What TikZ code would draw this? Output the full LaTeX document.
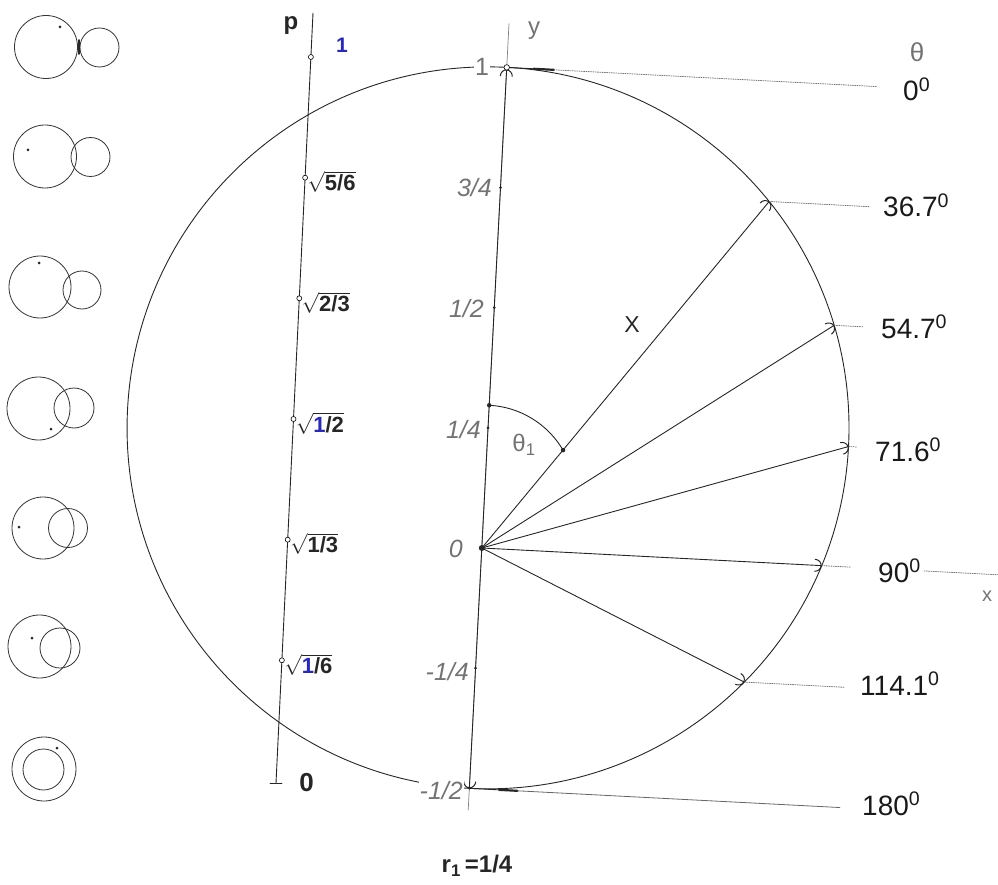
\documentclass[tikz,border=0pt]{standalone}
\usepackage{fontspec}
\setmainfont{Liberation Sans}
\usetikzlibrary{arrows.meta}
\definecolor{pblue}{RGB}{40,40,190}
\begin{document}
\begin{tikzpicture}[x=1pt,y=1pt,line cap=round,
  pair/.style={line width=0.8pt,black!80},
  bigc/.style={line width=0.9pt,black!85},
  axisl/.style={line width=0.7pt,black!50},
  ray/.style={line width=0.9pt,black!85,-{Arc Barb[width=13pt,length=7pt,line width=1pt]}},
  dotl/.style={black!55,line width=0.8pt,dash pattern=on 1pt off 1.3pt},
  anglbl/.style={anchor=base west,inner sep=0pt,font=\fontsize{28}{30}\selectfont,text=black!90},
  ylbl/.style={anchor=base east,inner sep=0pt,font=\fontsize{25}{28}\selectfont\itshape,text=black!55},
  plbl/.style={anchor=west,inner sep=0pt,font=\fontsize{22}{24}\selectfont\bfseries,text=black!85},
  mk/.style={circle,draw,inner sep=0pt,minimum size=5pt,fill=white,line width=0.6pt},
  tickdot/.style={circle,fill=black!85,inner sep=0pt,minimum size=3pt},
  glbl/.style={inner sep=0pt,text=black!55}]
\useasboundingbox (0,0) rectangle (998,-885);

% ---- left circle pairs
\foreach \bx/\by/\br/\sx/\sy/\sr/\dx/\dy in {
  46/47/31.5/99.5/47.5/19.5/60/27,
  45/156.5/31.5/90.5/157/19.5/28/150,
  40/287/31/82/290/19/39/263,
  38.5/408.5/31.5/74/408/20/51/429,
  43/528/31/68/528/19.5/19/527,
  39.5/646.5/31.5/60/648/20/32/638,
  44/769/32/43.5/769.5/20.5/57/748} {
  \draw[pair] (\bx,-\by) circle[radius=\br];
  \draw[pair] (\sx,-\sy) circle[radius=\sr];
  \fill[black!85] (\dx,-\dy) circle[radius=1.5];
}
\draw[line width=1.8pt,black!85] (79,-40) -- (79,-54);

% ---- p axis
\coordinate (ptop) at (313,-13);
\coordinate (pbot) at (276,-783);
\coordinate (ptl) at (270,-783);
\coordinate (ptr) at (282,-783);
\draw[line width=0.9pt,black!85] (ptop) -- (pbot);
\draw[line width=0.9pt,black!85] (ptl) -- (ptr);
\node[mk] (m1) at (310.9,-57) {};
\node[mk] (m56) at (305.1,-177.7) {};
\node[mk] (m23) at (299.3,-298.3) {};
\node[mk] (m12) at (293.5,-419) {};
\node[mk] (m13) at (287.7,-539.7) {};
\node[mk] (m16) at (281.9,-660.3) {};
\node[plbl] (l56) at (307.5,-182) {$\sqrt{\mbox{5/6}}$};
\node[plbl] (l23) at (301.7,-302.6) {$\sqrt{\mbox{2/3}}$};
\node[plbl] (l12) at (295.9,-423.3) {$\sqrt{\mbox{\textcolor{pblue}{1}/2}}$};
\node[plbl] (l13) at (290.1,-544) {$\sqrt{\mbox{1/3}}$};
\node[plbl] (l16) at (284.3,-664.6) {$\sqrt{\mbox{\textcolor{pblue}{1}/6}}$};
\node[inner sep=0pt,font=\fontsize{24}{26}\selectfont\bfseries,text=black!85] (lp) at (291,-26) {p};
\node[inner sep=0pt,font=\fontsize{21}{24}\selectfont\bfseries,text=pblue] (lp1) at (342,-45) {1};
\node[inner sep=0pt,font=\fontsize{26}{28}\selectfont\bfseries,text=black!85] (lp0) at (306.5,-783) {0};

% ---- main rotated frame
\begin{scope}[shift={(481.8,-548)},rotate=-2.97]
\begin{scope}[x=481.3pt,y=481.3pt]
  \coordinate (O) at (0,0);
  \coordinate (T0) at (0,1);
  \coordinate (B) at (0,-0.5);
  \coordinate (C) at (0,0.25);
  \coordinate (t1) at (0.5590,0.75);
  \coordinate (t2) at (0.7071,0.5);
  \coordinate (t3) at (0.75,0.25);
  \coordinate (t4) at (0.7071,0);
  \coordinate (t5) at (0.5590,-0.25);
  \coordinate (atop) at (0,1.091);
  \coordinate (abot) at (0,-0.545);
  \coordinate (e0) at (0.769,1);
  \coordinate (e1) at (0.769,0.75);
  \coordinate (e2) at (0.769,0.5);
  \coordinate (e3) at (0.769,0.25);
  \coordinate (e4) at (0.769,0);
  \coordinate (e5) at (0.769,-0.25);
  \coordinate (e6) at (0.771,-0.5);
  \coordinate (xa) at (0.92,0);
  \coordinate (xb) at (1.1,0);
  \coordinate (k0a) at (0.056,1);
  \coordinate (k0b) at (0.098,1);
  \coordinate (k6a) at (0.062,-0.5);
  \coordinate (k6b) at (0.100,-0.5);
  \coordinate (q1) at (0,0.75);
  \coordinate (q2) at (0,0.5);
  \coordinate (q3) at (0,0.25);
  \coordinate (q5) at (0,-0.25);
  \coordinate (a0) at (0,0.297);

  \draw[bigc] (C) circle[radius=0.75];
  \draw[axisl] (atop) -- (abot);
  % horizontal level lines
  \draw[line width=0.9pt,black!85] (T0) -- (k0b);
  \draw[line width=2.2pt,black!85] (k0a) -- (k0b);
  \draw[dotl] (k0b) -- (e0);
  \draw[line width=0.9pt,black!85] (B) -- (k6b);
  \draw[line width=2.2pt,black!85] (k6a) -- (k6b);
  \draw[line width=0.8pt,black!60] (k6b) -- (e6);
  \draw[dotl] (t1) -- (e1);
  \draw[dotl] (t2) -- (e2);
  \draw[dotl] (t3) -- (e3);
  \draw[dotl] (t4) -- (e4);
  \draw[dotl] (xa) -- (xb);
  \draw[dotl] (t5) -- (e5);
  % rays
  \draw[ray,shorten >=2pt] (O) -- (T0);
  \draw[ray] (O) -- (B);
  \draw[ray] (O) -- (t1);
  \draw[ray] (O) -- (t2);
  \draw[ray] (O) -- (t3);
  \draw[ray] (O) -- (t4);
  \draw[ray] (O) -- (t5);
  % theta_1 arc
  \draw[line width=0.9pt,black!85] (a0) arc[start angle=90,end angle=33.4,radius=0.1893] coordinate (a1);
  \node[tickdot,minimum size=4.5pt] (na0) at (a0) {};
  \node[tickdot,minimum size=4.5pt] (na1) at (a1) {};
  % ticks
  \node[tickdot] (n1) at (q1) {};
  \node[tickdot] (n2) at (q2) {};
  \node[tickdot] (n3) at (q3) {};
  \node[tickdot] (n5) at (q5) {};
  \node[tickdot] (nb) at (B) {};
  \node[tickdot,minimum size=6pt] (no) at (O) {};
  \node[mk,minimum size=5.5pt] (nt) at (T0) {};
\end{scope}
\end{scope}

% ---- y axis labels
\node[ylbl,anchor=base,fill=white,inner sep=1pt,font=\fontsize{25}{28}\selectfont] (y1) at (482,-76) {1};
\node[ylbl] (y34) at (492,-197) {3/4};
\node[ylbl] (y12) at (484,-317) {1/2};
\node[ylbl] (y14) at (481,-438) {1/4};
\node[ylbl] (y0) at (463,-557) {0};
\node[ylbl] (ym14) at (469,-680) {-1/4};
\node[ylbl,fill=white,inner sep=1pt] (ym12) at (464,-799) {-1/2};
\node[glbl,font=\fontsize{24}{26}\selectfont] (ly) at (534,-31) {y};
\node[inner sep=0pt,font=\fontsize{23}{26}\selectfont,text=black!85] (lX) at (632,-325) {X};
\node[glbl,font=\fontsize{24}{26}\selectfont] (lth1) at (524,-445) {θ\textsubscript{1}};
\node[glbl,font=\fontsize{26}{28}\selectfont] (lth) at (917,-52) {θ};
\node[glbl,font=\fontsize{20}{22}\selectfont] (lx) at (987,-596) {x};

% ---- angle labels
\node[anglbl] (g0) at (903,-101) {0\textsuperscript{0}};
\node[anglbl] (g1) at (883,-217) {36.7\textsuperscript{0}};
\node[anglbl] (g2) at (881,-338) {54.7\textsuperscript{0}};
\node[anglbl] (g3) at (875,-461) {71.6\textsuperscript{0}};
\node[anglbl] (g4) at (878,-582) {90\textsuperscript{0}};
\node[anglbl] (g5) at (860,-695) {114.1\textsuperscript{0}};
\node[anglbl] (g6) at (862,-815) {180\textsuperscript{0}};

% ---- radius label
\node[inner sep=0pt,font=\fontsize{24}{26}\selectfont\bfseries,text=black!85] (lr) at (477,-866) {r\textsubscript{1}\,=1/4};
\end{tikzpicture}
\end{document}
